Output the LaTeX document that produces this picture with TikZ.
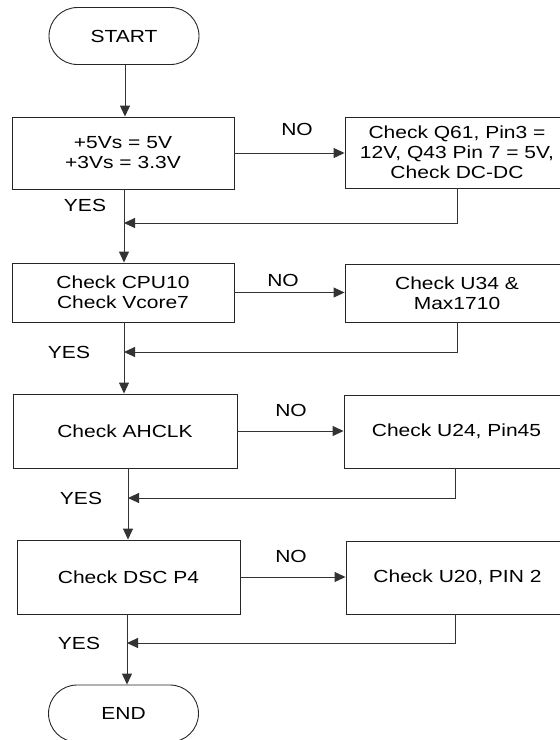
\documentclass[tikz,border=0pt]{standalone}
\usepackage{fontspec}
\setmainfont{Liberation Sans}[FakeStretch=1.2]
\usetikzlibrary{arrows.meta,shapes.misc}
\begin{document}
\begin{tikzpicture}[x=1pt,y=-1pt,
  every node/.style={font=\fontsize{17.5}{20}\selectfont},
  box/.style={draw=black!85,line width=0.9pt,rectangle,inner sep=0pt,align=center},
  term/.style={draw=black!85,line width=0.9pt,rounded rectangle,inner sep=0pt,minimum width=150pt,minimum height=57pt},
  lbl/.style={inner sep=0pt},
  con/.style={draw=black!80,line width=0.9pt},
  arr/.style={con,-{Triangle[length=11pt,width=10pt]}}]
\useasboundingbox (0,0) rectangle (560,740);
\clip (0,0) rectangle (560,740);
% terminals
\node[term] (start) at (124,36) {START};
\node[term] (end) at (123.5,713.5) {END};
% left column
\node[box,minimum width=222pt,minimum height=72pt] (b1) at (123,153) {+5Vs = 5V\\+3Vs = 3.3V};
\node[box,minimum width=222pt,minimum height=59pt] (b2) at (123,292.5) {Check CPU10\\Check Vcore7};
\node[box,minimum width=224pt,minimum height=74pt] (b3) at (125,431) {Check AHCLK};
\node[box,minimum width=223pt,minimum height=74pt] (b4) at (128.5,577) {Check DSC P4};
% right column
\node[box,minimum width=224pt,minimum height=71pt] (r1) at (457,152.5) {Check Q61, Pin3 =\\12V, Q43 Pin 7 = 5V,\\Check DC-DC};
\node[box,minimum width=224pt,minimum height=58pt] (r2) at (457,293) {Check U34 \&\\Max1710};
\node[box,minimum width=225pt,minimum height=73pt] (r3) at (456.5,431.5) {Check U24, Pin45};
\node[box,minimum width=223pt,minimum height=73pt] (r4) at (457.5,577.5) {Check U20, PIN 2};
% labels
\node[lbl] (no1) at (297,129) {NO};
\node[lbl] (no2) at (283,280) {NO};
\node[lbl] (no3) at (291,410) {NO};
\node[lbl] (no4) at (291,556) {NO};
\node[lbl] (yes1) at (85,205) {YES};
\node[lbl] (yes2) at (69,352) {YES};
\node[lbl] (yes3) at (81,498) {YES};
\node[lbl] (yes4) at (79,643) {YES};
% junctions on main line
\coordinate (j0) at (125,100);
\coordinate (j1) at (124,223);
\coordinate (j2) at (124,352);
\coordinate (j3) at (128,498);
\coordinate (j4) at (127,643);
% main flow
\draw[arr] (start.south -| j0) -- (b1.north -| j0);
\draw[con] (b1.south -| j1) -- (j1);
\draw[arr] (j1) -- (b2.north -| j1);
\draw[con] (b2.south -| j2) -- (j2);
\draw[arr] (j2) -- (b3.north -| j2);
\draw[con] (b3.south -| j3) -- (j3);
\draw[arr] (j3) -- (b4.north -| j3);
\draw[con] (b4.south -| j4) -- (j4);
\draw[arr] (j4) -- (end.north -| j4);
% NO branches
\draw[arr] (b1.east) -- (b1.east -| r1.west);
\draw[arr] (b2.east) -- (b2.east -| r2.west);
\draw[arr] (b3.east) -- (b3.east -| r3.west);
\draw[arr] (b4.east) -- (b4.east -| r4.west);
% returns
\draw[arr] (r1.south) |- (j1);
\draw[arr] (r2.south) |- (j2);
\draw[arr] ([xshift=-1.5pt]r3.south) |- (j3);
\draw[arr] ([xshift=-2.5pt]r4.south) |- (j4);
\end{tikzpicture}
\end{document}
